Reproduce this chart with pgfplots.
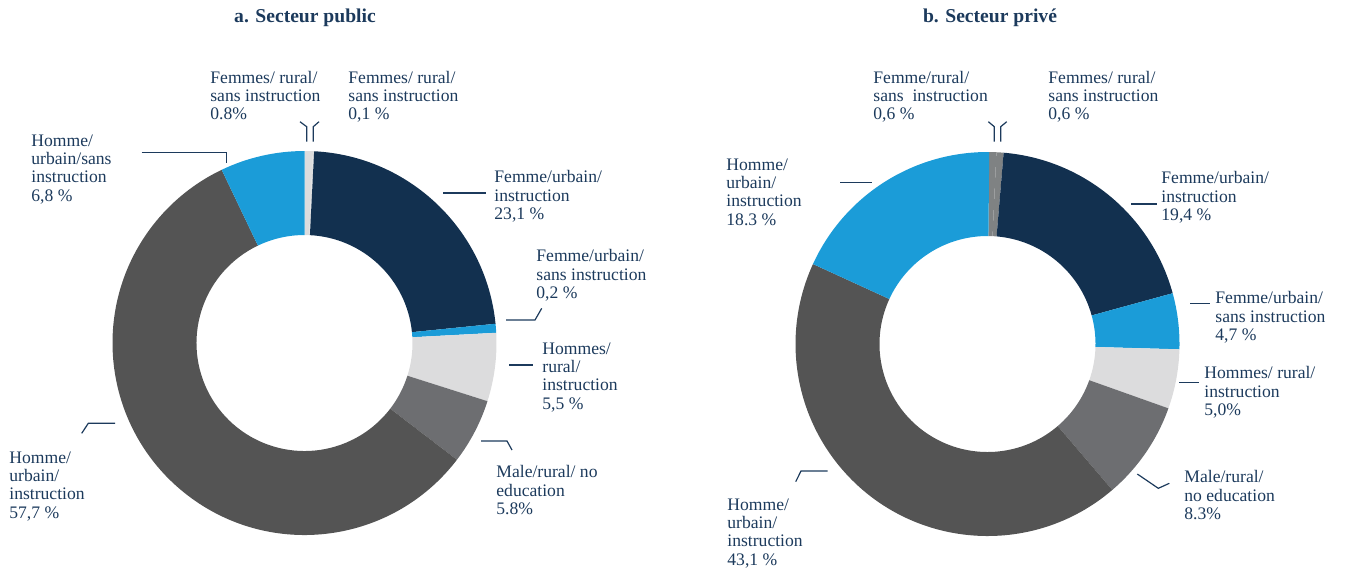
\documentclass[border=0pt]{standalone}
\usepackage{pgfplots}
\pgfplotsset{compat=1.18}
\usepackage{pgfplotstable}
\usepackage{fontspec}
\setmainfont{Liberation Serif}
\definecolor{navy}{HTML}{12304F}
\definecolor{sky}{HTML}{1B9CD8}
\definecolor{lgray}{HTML}{DCDCDD}
\definecolor{mgray}{HTML}{6D6E71}
\definecolor{dgray}{HTML}{545454}
\definecolor{tgray}{HTML}{7F8283}
\definecolor{txt}{HTML}{1C3A5C}

% shares (%), clockwise from the top
\pgfplotstableread{
share col
0.7 lgray
0.1 lgray
22.6 navy
0.75 sky
5.75 lgray
5.5 mgray
57.5 dgray
7.1 sky
}\publictab

\pgfplotstableread{
share col
0.6 tgray
0.6 tgray
19.4 navy
4.7 sky
5.0 lgray
8.3 mgray
43.1 dgray
18.3 sky
}\privtab

\newcommand\donut[6]{% table, cx, cy, Ro(pt), Ri(pt), start angle
  \pgfplotstablegetrowsof{#1}\pgfmathtruncatemacro\nrows{\pgfplotsretval-1}%
  \pgfmathsetmacro\cum{#6}%
  \pgfmathsetmacro\dr{#4-#5}%
  \pgfplotsforeachungrouped \i in {0,...,\nrows}{%
    \pgfplotstablegetelem{\i}{share}\of#1\let\val\pgfplotsretval
    \pgfplotstablegetelem{\i}{col}\of#1\let\col\pgfplotsretval
    \pgfmathsetmacro\endang{\cum-3.6*\val}%
    \fill[fill=\col] (axis cs:#2,#3) ++(\cum:#4pt) arc[start angle=\cum,end angle=\endang,radius=#4pt] -- ++(\endang:-\dr pt) arc[start angle=\endang,end angle=\cum,radius=#5pt] -- cycle;
    \let\cum\endang
  }%
}

\tikzset{
  lab/.style={anchor=north west, align=left, inner sep=0pt, text=txt, font=\fontsize{8.8}{9.2}\selectfont},
  ttl/.style={anchor=center, inner sep=0pt, text=txt, font=\bfseries\fontsize{9.8}{11}\selectfont},
  ldr/.style={draw=txt, line width=0.6pt}
}

\begin{document}
\begin{tikzpicture}
\begin{axis}[scale only axis, width=676pt, height=285pt,
  xmin=0, xmax=1352, ymin=0, ymax=570, y dir=reverse,
  hide axis, clip=false]
\path (axis cs:0,0) rectangle (axis cs:1352,570);
\pgfplotsextra{\donut{\publictab}{304.5}{343}{96}{54}{90}}
\pgfplotsextra{\donut{\privtab}{987.5}{344}{96}{54}{89.5}}

% titles
\node[ttl] at (axis cs:305,18) {a. Secteur public};
\node[ttl] at (axis cs:990,18) {b. Secteur privé};

% ---- left labels
\node[lab] at (axis cs:210,70.5) {Femmes/ rural/\\sans instruction\\0.8\%};
\node[lab] at (axis cs:348,70.5) {Femmes/ rural/\\sans instruction\\0,1 \%};
\node[lab] at (axis cs:31,134) {Homme/\\urbain/sans\\instruction\\6,8 \%};
\node[lab] at (axis cs:494,170) {Femme/urbain/\\instruction\\23,1 \%};
\node[lab] at (axis cs:536,249) {Femme/urbain/\\sans instruction\\0,2 \%};
\node[lab] at (axis cs:542,342) {Hommes/\\rural/\\instruction\\5,5 \%};
\node[lab] at (axis cs:496,465) {Male/rural/ no\\education\\5.8\%};
\node[lab] at (axis cs:9,451) {Homme/\\urbain/\\instruction\\57,7 \%};

\draw[ldr] (axis cs:300,121.7) -- (axis cs:306.7,126.7) -- (axis cs:306.7,141.7);
\draw[ldr] (axis cs:319,121.7) -- (axis cs:313.3,126.7) -- (axis cs:313.3,141.7);
\draw[ldr] (axis cs:141.7,152.3) -- (axis cs:226.7,152.3) -- (axis cs:226.7,163.3);
\draw[ldr] (axis cs:443,193) -- (axis cs:486,193);
\draw[ldr] (axis cs:506,320) -- (axis cs:535,320) -- (axis cs:541.7,308.3);
\draw[ldr] (axis cs:509.3,365) -- (axis cs:532.7,365);
\draw[ldr] (axis cs:481,441) -- (axis cs:507,441) -- (axis cs:512,450);
\draw[ldr] (axis cs:81.7,433.3) -- (axis cs:88.3,423.3) -- (axis cs:115,423.3);

% ---- right labels
\node[lab] at (axis cs:873,70.5) {Femme/rural/\\sans~ instruction\\0,6 \%};
\node[lab] at (axis cs:1048,70.5) {Femmes/ rural/\\sans instruction\\0,6 \%};
\node[lab] at (axis cs:726,158) {Homme/\\urbain/\\instruction\\18.3 \%};
\node[lab] at (axis cs:1161,171) {Femme/urbain/\\instruction\\19,4 \%};
\node[lab] at (axis cs:1215,291) {Femme/urbain/\\sans instruction\\4,7 \%};
\node[lab] at (axis cs:1204,366) {Hommes/ rural/\\instruction\\5,0\%};
\node[lab] at (axis cs:1184,470) {Male/rural/\\no education\\8.3\%};
\node[lab] at (axis cs:727,498) {Homme/\\urbain/\\instruction\\43,1 \%};

\draw[ldr] (axis cs:988.3,121.7) -- (axis cs:994.3,126.7) -- (axis cs:994.3,141.7);
\draw[ldr] (axis cs:1006.7,121.7) -- (axis cs:1000.7,126.7) -- (axis cs:1000.7,141.7);
\draw[ldr] (axis cs:840,182.3) -- (axis cs:871.7,182.3);
\draw[ldr] (axis cs:1131,204) -- (axis cs:1157,204);
\draw[ldr] (axis cs:1190,303.3) -- (axis cs:1210,303.3);
\draw[ldr] (axis cs:1179.3,382.7) -- (axis cs:1199.3,382.7);
\draw[ldr] (axis cs:1137.3,474) -- (axis cs:1158.3,488.3) -- (axis cs:1169.3,483.3);
\draw[ldr] (axis cs:795.7,481.7) -- (axis cs:801,471) -- (axis cs:827.7,471);
\end{axis}
\end{tikzpicture}
\end{document}
